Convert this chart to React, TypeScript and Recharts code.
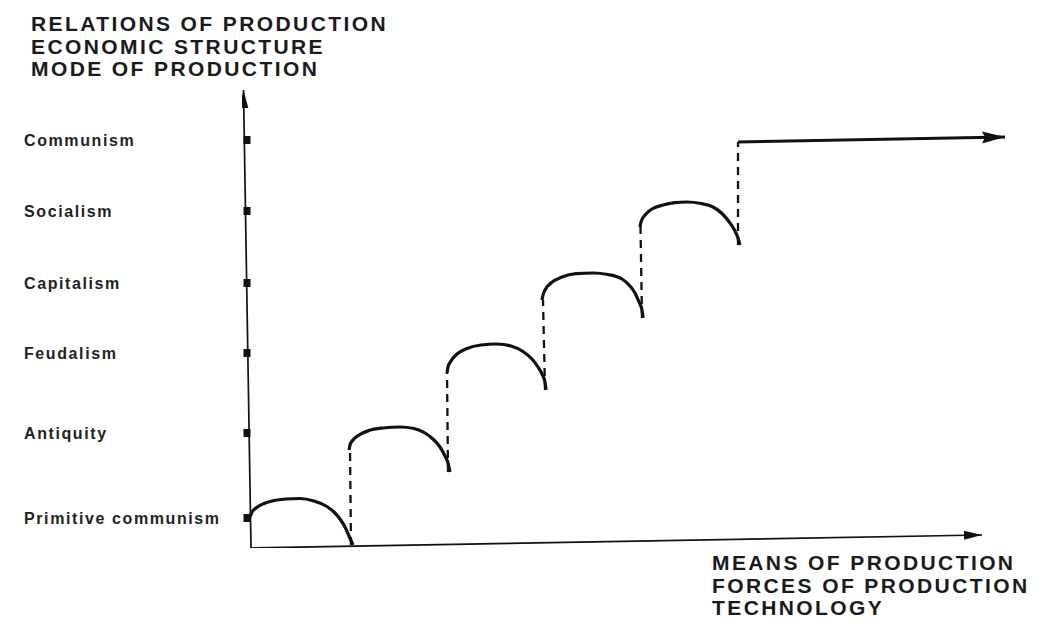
import { LineChart, Line, XAxis, YAxis } from 'recharts';

// stages of the mode of production, bottom to top
const stages = ['Primitive communism', 'Antiquity', 'Feudalism', 'Capitalism', 'Socialism', 'Communism'];
const stageLevels = [3.0, 11.5, 19.5, 26.5, 33.7, 40.8];

const yTitle = ['RELATIONS OF PRODUCTION', 'ECONOMIC STRUCTURE', 'MODE OF PRODUCTION'];
const xTitle = ['MEANS OF PRODUCTION', 'FORCES OF PRODUCTION', 'TECHNOLOGY'];

// axes (drawn as lines so the arrows sit where the drawing has them)
const xAxisLine = [{ x: 0.4, y: 0 }, { x: 73.5, y: 1.3 }];
const yAxisLine = [{ x: 0.4, y: 0 }, { x: -0.35, y: 45.8 }];

// development of the forces within each mode (points read along each arc)
const arc1 = [
  { x: 0.3, y: 3.1 }, { x: 0.5, y: 3.6 }, { x: 0.9, y: 4.0 }, { x: 1.7, y: 4.45 }, { x: 2.7, y: 4.75 },
  { x: 3.9, y: 4.9 }, { x: 5.3, y: 4.95 }, { x: 6.7, y: 4.7 }, { x: 7.9, y: 4.2 }, { x: 8.7, y: 3.6 },
  { x: 9.3, y: 2.9 }, { x: 9.8, y: 2.1 }, { x: 10.2, y: 1.2 }, { x: 10.6, y: 0.3 },
];
const arc2 = [
  { x: 10.2, y: 9.8 }, { x: 10.3, y: 10.3 }, { x: 10.6, y: 10.8 }, { x: 11.2, y: 11.3 }, { x: 12.2, y: 11.75 },
  { x: 13.6, y: 12.0 }, { x: 15.3, y: 12.1 }, { x: 16.7, y: 11.95 }, { x: 17.8, y: 11.5 }, { x: 18.7, y: 10.8 },
  { x: 19.3, y: 10.1 }, { x: 19.8, y: 9.2 }, { x: 20.1, y: 8.5 }, { x: 20.3, y: 7.6 },
];
const arc3 = [
  { x: 20.0, y: 17.5 }, { x: 20.1, y: 18.1 }, { x: 20.4, y: 18.7 }, { x: 21.0, y: 19.4 }, { x: 22.0, y: 19.95 },
  { x: 23.4, y: 20.3 }, { x: 25.0, y: 20.4 }, { x: 26.4, y: 20.2 }, { x: 27.6, y: 19.65 }, { x: 28.5, y: 18.9 },
  { x: 29.1, y: 18.1 }, { x: 29.5, y: 17.4 }, { x: 29.8, y: 16.6 }, { x: 29.9, y: 15.8 },
];
const arc4 = [
  { x: 29.5, y: 24.8 }, { x: 29.6, y: 25.3 }, { x: 29.8, y: 25.8 }, { x: 30.4, y: 26.5 }, { x: 31.5, y: 27.1 },
  { x: 32.9, y: 27.43 }, { x: 34.6, y: 27.5 }, { x: 36.1, y: 27.35 }, { x: 37.5, y: 26.9 }, { x: 38.3, y: 26.2 },
  { x: 38.8, y: 25.5 }, { x: 39.2, y: 24.6 }, { x: 39.5, y: 23.8 }, { x: 39.6, y: 23.0 },
];
const arc5 = [
  { x: 39.3, y: 32.1 }, { x: 39.4, y: 32.6 }, { x: 39.8, y: 33.3 }, { x: 40.5, y: 33.9 }, { x: 41.6, y: 34.3 },
  { x: 42.8, y: 34.53 }, { x: 44.0, y: 34.6 }, { x: 45.4, y: 34.45 }, { x: 46.6, y: 34.1 }, { x: 47.5, y: 33.45 },
  { x: 48.3, y: 32.5 }, { x: 48.8, y: 31.7 }, { x: 49.1, y: 31.0 }, { x: 49.3, y: 30.3 },
];

// revolutionary jumps between modes
const jump1 = [{ x: 10.4, y: 0.3 }, { x: 10.3, y: 9.9 }];
const jump2 = [{ x: 20.1, y: 7.6 }, { x: 20.0, y: 17.6 }];
const jump3 = [{ x: 29.8, y: 15.8 }, { x: 29.6, y: 24.8 }];
const jump4 = [{ x: 39.5, y: 23.0 }, { x: 39.35, y: 32.1 }];
const jump5 = [{ x: 49.1, y: 30.3 }, { x: 49.1, y: 40.6 }];

const communism = [{ x: 49.1, y: 40.6 }, { x: 75.8, y: 41.1 }];

const ink = '#111';
const font = '"Liberation Sans", Arial, sans-serif';

const StageTick = (props: any) => {
  const { x, y, payload } = props;
  const label = stages[stageLevels.indexOf(payload.value)];
  return (
    <g>
      <rect x={x + 1.5} y={y - 4} width={7} height={8} fill={ink} />
      <text
        x={x - 218}
        y={y}
        dy={5.5}
        textAnchor="start"
        fill="#222"
        fontFamily={font}
        fontWeight="bold"
        fontSize={16}
        letterSpacing={1.6}
      >
        {label}
      </text>
    </g>
  );
};

const titleStyle = {
  position: 'absolute' as const,
  fontFamily: font,
  fontWeight: 'bold' as const,
  fontSize: 21,
  lineHeight: '22.5px',
  letterSpacing: 2.4,
  color: '#1a1a1a',
  whiteSpace: 'nowrap' as const,
};

export default function App() {
  const arcs = [arc1, arc2, arc3, arc4, arc5];
  const jumps = [jump1, jump2, jump3, jump4, jump5];
  return (
    <div style={{ position: 'absolute', left: 0, top: 0, width: 1059, height: 631, background: '#fff', overflow: 'hidden' }}>
      <LineChart width={1059} height={631} margin={{ top: 90, right: 52, bottom: 83, left: 12 }}>
        <defs>
          <marker id="arrowSmall" markerUnits="userSpaceOnUse" markerWidth={20} markerHeight={12} refX={18} refY={4.5} orient="auto">
            <path d="M0,0 L18,4.5 L0,9 Z" fill={ink} />
          </marker>
          <marker id="arrowBig" markerUnits="userSpaceOnUse" markerWidth={26} markerHeight={16} refX={23} refY={6} orient="auto">
            <path d="M0,0 L23,6 L0,12 L3,6 Z" fill={ink} />
          </marker>
        </defs>
        <XAxis type="number" dataKey="x" domain={[-0.5, 76]} allowDataOverflow hide />
        <YAxis
          type="number"
          domain={[0, 45.8]}
          ticks={stageLevels}
          width={230}
          axisLine={false}
          tickLine={false}
          tickSize={0}
          tickMargin={0}
          tick={<StageTick />}
          allowDataOverflow
        />
        <Line data={yAxisLine} dataKey="y" type="linear" stroke={ink} strokeWidth={1.7} dot={false} activeDot={false} isAnimationActive={false} markerEnd="url(#arrowSmall)" />
        <Line data={xAxisLine} dataKey="y" type="linear" stroke={ink} strokeWidth={1.7} dot={false} activeDot={false} isAnimationActive={false} markerEnd="url(#arrowSmall)" />
        {jumps.map((j, i) => (
          <Line key={'j' + i} data={j} dataKey="y" type="linear" stroke={ink} strokeWidth={2.3} strokeDasharray="8 6" dot={false} activeDot={false} isAnimationActive={false} />
        ))}
        {arcs.map((a, i) => (
          <Line key={'a' + i} data={a} dataKey="y" type="monotoneX" stroke={ink} strokeWidth={3.2} dot={false} activeDot={false} isAnimationActive={false} />
        ))}
        <Line data={communism} dataKey="y" type="linear" stroke={ink} strokeWidth={3} dot={false} activeDot={false} isAnimationActive={false} markerEnd="url(#arrowBig)" />
      </LineChart>
      <div style={{ ...titleStyle, left: 31, top: 13 }}>
        {yTitle.map((t) => (
          <div key={t}>{t}</div>
        ))}
      </div>
      <div style={{ ...titleStyle, left: 712, top: 552 }}>
        {xTitle.map((t) => (
          <div key={t}>{t}</div>
        ))}
      </div>
    </div>
  );
}
